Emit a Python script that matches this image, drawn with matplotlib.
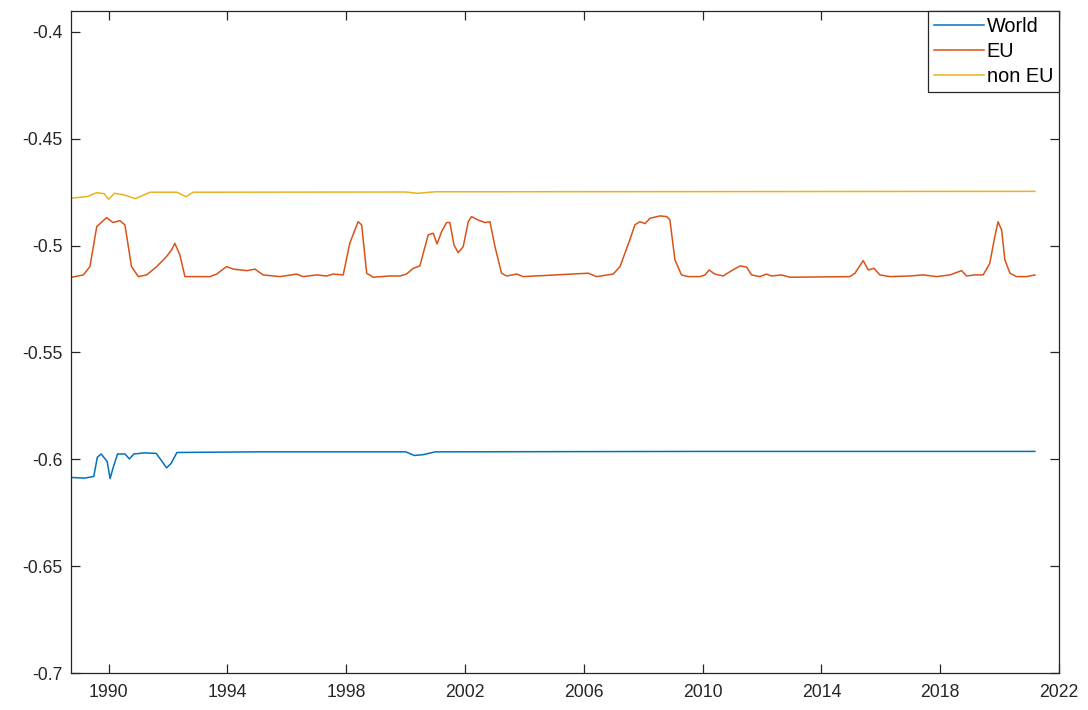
import matplotlib
matplotlib.use("Agg")
import matplotlib.pyplot as plt

plt.rcParams['font.family'] = ['Liberation Sans', 'DejaVu Sans']

# Decimal-year breakpoints and values for each series
world_t = [1988.75, 1989.2, 1989.5, 1989.62, 1989.75, 1989.95, 1990.05, 1990.15, 1990.3,
           1990.55, 1990.7, 1990.85, 1991.2, 1991.6, 1991.8, 1991.95, 1992.1, 1992.3,
           1995.0, 2000.0, 2000.3, 2000.6, 2001.0, 2010.0, 2021.19]
world_v = [-0.6085, -0.6088, -0.6080, -0.5990, -0.5975, -0.6010, -0.6090, -0.6040, -0.5975,
           -0.5975, -0.5998, -0.5975, -0.5970, -0.5972, -0.6010, -0.6040, -0.6020, -0.5968,
           -0.5965, -0.5965, -0.5982, -0.5978, -0.5965, -0.5963, -0.5963]

eu_t = [1988.75, 1989.15, 1989.37, 1989.6, 1989.93, 1990.15, 1990.38, 1990.55, 1990.77,
        1991.0, 1991.28, 1991.62, 1991.95, 1992.12, 1992.23, 1992.4, 1992.57, 1993.41,
        1993.64, 1993.97, 1994.2, 1994.65, 1994.93, 1995.2, 1995.77, 1996.33, 1996.55,
        1997.0, 1997.34, 1997.56, 1997.9, 1998.12, 1998.4, 1998.52, 1998.69, 1998.91,
        1999.47, 1999.81, 2000.03, 2000.26, 2000.48, 2000.76, 2000.93, 2001.06, 2001.21,
        2001.38, 2001.49, 2001.63, 2001.77, 2001.94, 2002.11, 2002.22, 2002.44, 2002.67,
        2002.84, 2003.01, 2003.23, 2003.4, 2003.74, 2003.96, 2006.15, 2006.43, 2006.99,
        2007.22, 2007.55, 2007.72, 2007.89, 2008.06, 2008.23, 2008.56, 2008.79, 2008.9,
        2009.07, 2009.29, 2009.52, 2009.91, 2010.08, 2010.22, 2010.41, 2010.69, 2010.98,
        2011.26, 2011.48, 2011.65, 2011.93, 2012.15, 2012.32, 2012.66, 2012.94, 2014.96,
        2015.13, 2015.41, 2015.58, 2015.77, 2015.97, 2016.31, 2016.98, 2017.43, 2017.88,
        2018.33, 2018.72, 2018.89, 2019.17, 2019.45, 2019.67, 2019.84, 2019.95, 2020.07,
        2020.18, 2020.35, 2020.57, 2020.91, 2021.19]
eu_v = [-0.5148, -0.5137, -0.5098, -0.4911, -0.4869, -0.4892, -0.4883, -0.4903, -0.5098,
        -0.5145, -0.5137, -0.5098, -0.5051, -0.5020, -0.4989, -0.5044, -0.5145, -0.5145,
        -0.5133, -0.5098, -0.5110, -0.5117, -0.5110, -0.5137, -0.5145, -0.5133, -0.5145,
        -0.5137, -0.5142, -0.5133, -0.5137, -0.4989, -0.4888, -0.4903, -0.5129, -0.5148,
        -0.5142, -0.5142, -0.5133, -0.5106, -0.5095, -0.4950, -0.4942, -0.4992, -0.4935,
        -0.4892, -0.4892, -0.4997, -0.5033, -0.5005, -0.4888, -0.4864, -0.4880, -0.4892,
        -0.4888, -0.5005, -0.5129, -0.5142, -0.5133, -0.5145, -0.5129, -0.5145, -0.5133,
        -0.5098, -0.4973, -0.4903, -0.4888, -0.4897, -0.4872, -0.4861, -0.4864, -0.4880,
        -0.5067, -0.5137, -0.5145, -0.5145, -0.5137, -0.5114, -0.5133, -0.5142, -0.5117,
        -0.5095, -0.5100, -0.5137, -0.5145, -0.5133, -0.5142, -0.5137, -0.5148, -0.5145,
        -0.5129, -0.5070, -0.5114, -0.5106, -0.5137, -0.5145, -0.5142, -0.5137, -0.5145,
        -0.5137, -0.5117, -0.5142, -0.5137, -0.5137, -0.5083, -0.4958, -0.4888, -0.4927,
        -0.5067, -0.5129, -0.5145, -0.5145, -0.5137]

noneu_t = [1988.75, 1989.3, 1989.6, 1989.85, 1990.0, 1990.2, 1990.5, 1990.9, 1991.4,
           1992.3, 1992.6, 1992.85, 2000.0, 2000.4, 2001.0, 2021.19]
noneu_v = [-0.4778, -0.4770, -0.4752, -0.4757, -0.4783, -0.4755, -0.4762, -0.4780, -0.4750,
           -0.4750, -0.4771, -0.4750, -0.4749, -0.4755, -0.4748, -0.4746]

series_names = ["World", "EU", "non EU"]
series_colors = ["#0072BD", "#D95319", "#EDB120"]

x_ticks = [1990, 1994, 1998, 2002, 2006, 2010, 2014, 2018, 2022]
y_ticks = [-0.7, -0.65, -0.6, -0.55, -0.5, -0.45, -0.4]
y_tick_labels = ["-0.7", "-0.65", "-0.6", "-0.55", "-0.5", "-0.45", "-0.4"]

fig = plt.figure(figsize=(10.88, 7.10), dpi=100)
ax = fig.add_axes([0.0649, 0.0521, 0.9084, 0.9324])

for t, v, name, col in zip([world_t, eu_t, noneu_t], [world_v, eu_v, noneu_v],
                           series_names, series_colors):
    ax.plot(t, v, color=col, lw=1.1, label=name)

ax.set_xlim(1988.72, 2022)
ax.set_ylim(-0.7, -0.3902)
ax.set_xticks(x_ticks)
ax.set_xticklabels([str(x) for x in x_ticks])
ax.set_yticks(y_ticks)
ax.set_yticklabels(y_tick_labels)

ax.tick_params(direction='in', length=6.5, width=0.9, top=True, right=True,
               labelsize=12.7, labelcolor='#262626', color='#262626', pad=6)
ax.tick_params(axis='x', pad=8)
for sp in ax.spines.values():
    sp.set_color('#262626')
    sp.set_linewidth(0.9)

leg = ax.legend(loc='upper right', fontsize=14.3, frameon=True, fancybox=False,
                edgecolor='#262626', framealpha=1, borderaxespad=0, handlelength=2.5,
                handletextpad=0.15, labelspacing=0.3, borderpad=0.3)
leg.get_frame().set_linewidth(0.9)

fig.savefig("out.png", dpi=100)
